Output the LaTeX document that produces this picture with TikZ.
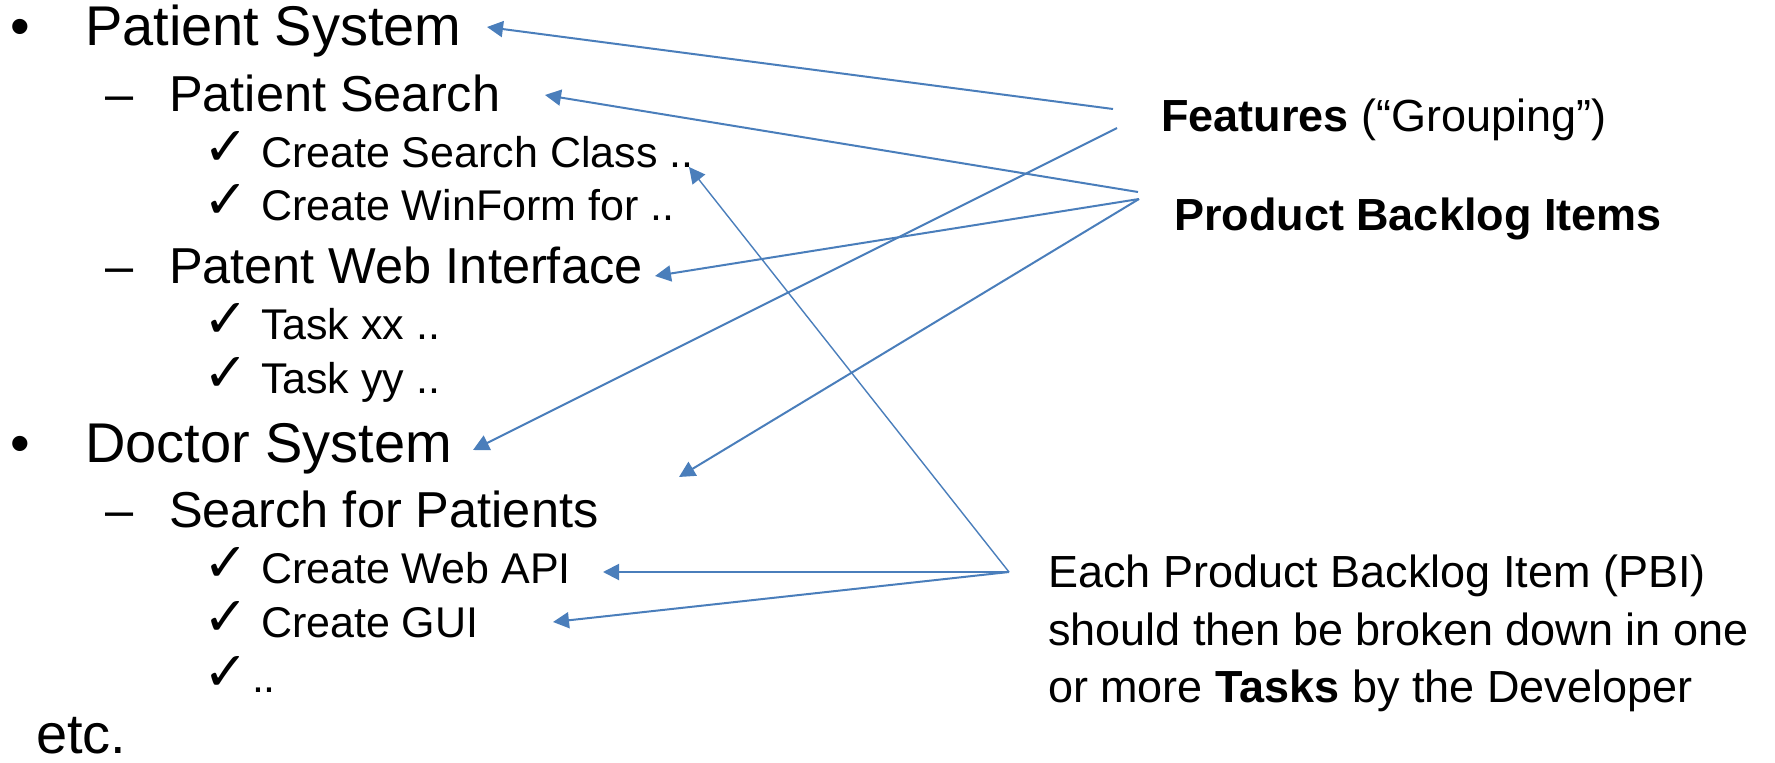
\documentclass[tikz,border=0pt]{standalone}
\usepackage{fontspec}
\setmainfont{Liberation Sans}
\newfontfamily\chkfont{DejaVu Sans}
\usetikzlibrary{arrows.meta}
\definecolor{arrowblue}{HTML}{4A7EBB}
\tikzset{
  txt/.style={anchor=base west, inner sep=0pt, outer sep=0pt, text=black},
  lone/.style={txt, font=\fontsize{56}{60}\selectfont},
  ltwo/.style={txt, font=\fontsize{50.5}{54}\selectfont},
  lthree/.style={txt, font=\fontsize{43}{46}\selectfont},
  chk/.style={txt, font=\chkfont\fontsize{54}{58}\selectfont},
  rtxt/.style={txt, font=\fontsize{45}{50}\selectfont},
  conn/.style={draw=arrowblue, line width=2pt, -{Triangle[length=16pt,width=16pt]}},
  connthin/.style={conn, line width=1.4pt}
}
\begin{document}
\begin{tikzpicture}[x=1pt,y=-1pt]
\useasboundingbox (0,0) rectangle (1775,763);
% left outline
\node[lone] (b1) at (10,45) {•};
\node[lone] (ps) at (85,45) {Patient System};
\node[ltwo] (d1) at (105,111) {–};
\node[ltwo] (pse) at (169,111) {Patient Search};
\node[chk] (c1) at (203,165) {✓};
\node[lthree] (csc) at (261,167) {Create Search Class ..};
\node[chk] (c2) at (203,218) {✓};
\node[lthree] (cwf) at (261,220) {Create WinForm for ..};
\node[ltwo] (d2) at (105,283) {–};
\node[ltwo] (pwi) at (169,283) {Patent Web Interface};
\node[chk] (c3) at (203,337) {✓};
\node[lthree] (txx) at (261,339) {Task xx ..};
\node[chk] (c4) at (203,391) {✓};
\node[lthree] (tyy) at (261,393) {Task yy ..};
\node[lone] (b2) at (10,462) {•};
\node[lone] (ds) at (85,462) {Doctor System};
\node[ltwo] (d3) at (105,527) {–};
\node[ltwo] (sfp) at (169,527) {Search for Patients};
\node[chk] (c5) at (203,581) {✓};
\node[lthree] (api) at (261,583) {Create Web API};
\node[chk] (c6) at (203,635) {✓};
\node[lthree] (gui) at (261,637) {Create GUI};
\node[chk] (c7) at (203,690) {✓};
\node[lthree] (dots) at (252,692) {..};
\node[lone] (etc) at (36,753) {etc.};
% right labels
\node[rtxt] (feat) at (1161,131) {\textbf{Features} (“Grouping”)};
\node[rtxt] (pbi) at (1174,230) {\textbf{Product Backlog Items}};
\node[rtxt] (e1) at (1048,587) {Each Product Backlog Item (PBI)};
\node[rtxt] (e2) at (1048,645) {should then be broken down in one};
\node[rtxt] (e3) at (1048,702) {or more \textbf{Tasks} by the Developer};
% connector ends
\coordinate (fsrcA) at (1113,109);
\coordinate (fsrcB) at (1117,128);
\coordinate (psrcA) at (1138,192);
\coordinate (psrcB) at (1139,199);
\coordinate (tsrc) at (1009,572);
\coordinate (tipPS) at (487,27);
\coordinate (tipDS) at (473,450);
\coordinate (tipPSe) at (545,95);
\coordinate (tipPWI) at (655,276);
\coordinate (tipSFP) at (679,477);
\coordinate (tipCSC) at (689,167);
\coordinate (tipAPI) at (603,572);
\coordinate (tipGUI) at (553,622);
% connectors
\draw[conn] (fsrcA) -- (tipPS);
\draw[conn] (fsrcB) -- (tipDS);
\draw[conn] (psrcA) -- (tipPSe);
\draw[conn] (psrcB) -- (tipPWI);
\draw[conn] (psrcB) -- (tipSFP);
\draw[connthin] (tsrc) -- (tipCSC);
\draw[conn] (tsrc) -- (tipAPI);
\draw[conn] (tsrc) -- (tipGUI);
\end{tikzpicture}
\end{document}
